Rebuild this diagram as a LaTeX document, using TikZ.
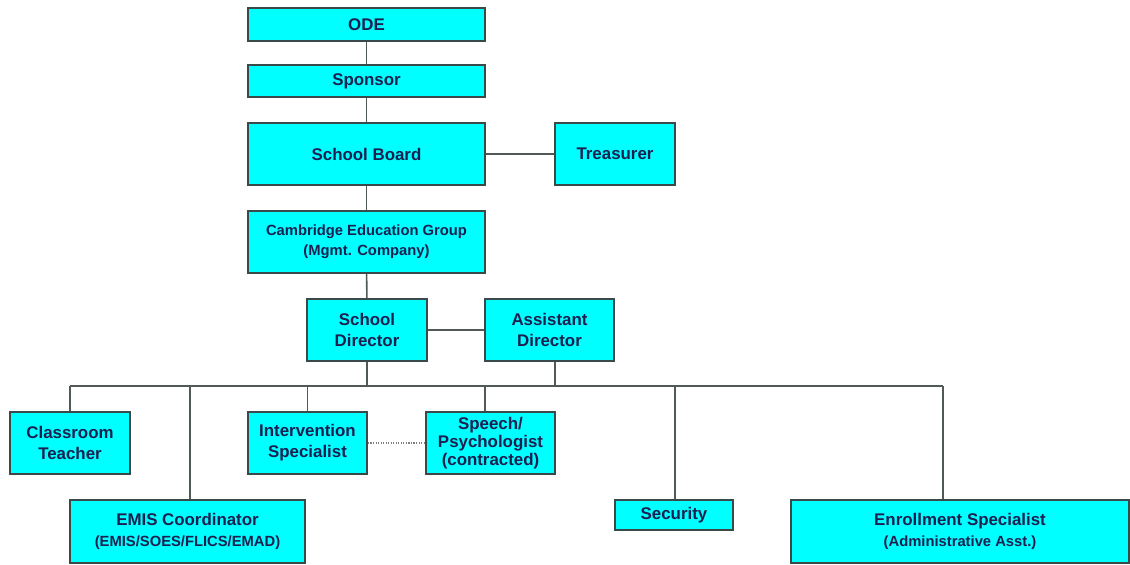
\documentclass[tikz,border=0pt]{standalone}
\usepackage{fontspec}
\setmainfont{Liberation Sans}
\usepackage{tikz}
\usetikzlibrary{positioning}
\definecolor{boxfill}{HTML}{00FFFF}
\definecolor{boxline}{HTML}{3A4A4A}
\definecolor{boxtext}{HTML}{1A2050}
\definecolor{wire}{HTML}{505858}
\tikzset{
  unit/.style={draw=boxline, line width=1.3pt, fill=boxfill, text=boxtext, inner sep=0pt,
    align=center, font=\fontsize{12}{15}\selectfont\bfseries},
  wide/.style={unit, minimum width=5.925cm},
  link/.style={draw=wire, line width=1.1pt},
}
\newcommand{\sub}[1]{{\fontsize{10.5}{13}\selectfont #1}}

\begin{document}
\begin{tikzpicture}[x=0.025cm, y=-0.025cm]
\useasboundingbox (0,0) rectangle (1130,565);
\node[wide, minimum height=0.825cm] (ode) at (366.5,24.5) {ODE};
\node[wide, minimum height=0.8cm] (sponsor) at (366.5,81) {Sponsor};
\node[wide, minimum height=1.55cm] (board) at (366.5,154) {School Board};
\node[unit, minimum width=3cm, minimum height=1.55cm] (treasurer) at (615,154) {Treasurer};
\node[wide, minimum height=1.55cm] (cambridge) at (366.5,242) {\sub{Cambridge Education Group}\\[-1pt] \sub{(Mgmt. Company)}};
\node[unit, minimum width=3cm, minimum height=1.55cm] (director) at (367,330) {School\\Director};
\node[unit, minimum width=3.225cm, minimum height=1.55cm] (assistant) at (549.5,330) {Assistant\\Director};
\node[unit, minimum width=3cm, minimum height=1.55cm] (teacher) at (70,443) {Classroom\\Teacher};
\node[unit, minimum width=2.975cm, minimum height=1.55cm] (intervention) at (307.5,443) {Intervention\\Specialist};
\node[unit, minimum width=3.225cm, minimum height=1.55cm] (speech) at (490.5,443) {Speech/\\[-2pt]Psychologist\\[-2pt](contracted)};
\node[unit, minimum width=5.875cm, minimum height=1.575cm] (emis) at (187.5,531.5) {EMIS Coordinator\\ \sub{(EMIS/SOES/FLICS/EMAD)}};
\node[unit, minimum width=2.95cm, minimum height=0.75cm] (security) at (674,515) {Security};
\node[unit, minimum width=8.45cm, minimum height=1.575cm] (enrollment) at (960,531.5) {Enrollment Specialist\\ \sub{(Administrative Asst.)}};
\coordinate (bus) at (0,386);

\draw[link] (ode) -- (sponsor);
\draw[link] (sponsor) -- (board);
\draw[link] (board) -- (treasurer);
\draw[link] (board) -- (cambridge);
\draw[link] (cambridge) -- (director);
\draw[link] (director) -- (assistant);
\draw[link] (director.south) -- (director.south |- bus);
\draw[link] ([xshift=0.1375cm]assistant.south) -- ([xshift=0.1375cm]assistant.south |- bus);
\draw[link] (teacher.north |- bus) -- ([xshift=-0.425cm]enrollment.north |- bus);
\foreach \n/\s in {teacher/0cm,emis/0.0625cm,intervention/0cm,speech/-0.1375cm,security/0.025cm,enrollment/-0.425cm} {
\draw[link] ([xshift=\s]\n.north) -- ([xshift=\s]\n.north |- bus);
}
\draw[draw=gray, line width=0.8pt, densely dotted] (intervention) -- (speech);
\end{tikzpicture}
\end{document}
